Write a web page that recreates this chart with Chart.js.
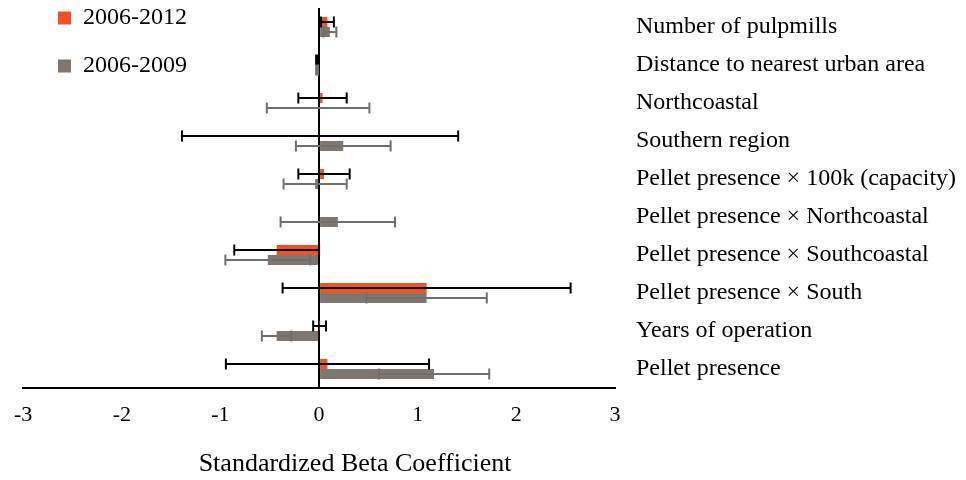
<!DOCTYPE html>
<html>
<head>
<meta charset="utf-8">
<script src="https://cdn.jsdelivr.net/npm/chart.js@4/dist/chart.umd.min.js"></script>
<style>
  html, body { margin: 0; padding: 0; background: #ffffff; }
  #wrap { width: 966px; height: 480px; }
</style>
</head>
<body>
<div id="wrap"><canvas id="c" width="966" height="480"></canvas></div>
<script>
// ---- data ----
const categories = [
  "Number of pulpmills",
  "Distance to nearest urban area",
  "Northcoastal",
  "Southern region",
  "Pellet presence \u00d7 100k (capacity)",
  "Pellet presence \u00d7 Northcoastal",
  "Pellet presence \u00d7 Southcoastal",
  "Pellet presence \u00d7 South",
  "Years of operation",
  "Pellet presence"
];
const seriesNames = ["2006-2012", "2006-2009"];
const beta2012 = [0.085, -0.02, 0.035, 0.01, 0.05, 0.0, -0.43, 1.09, 0.005, 0.085];
const err2012  = [0.065, 0.01, 0.245, 1.40, 0.26, 0.0, 0.43, 1.46, 0.065, 1.03];
const beta2009 = [0.11, -0.02, -0.01, 0.245, -0.04, 0.19, -0.52, 1.09, -0.43, 1.165];
const err2009  = [0.065, 0.01, 0.52, 0.48, 0.32, 0.58, 0.43, 0.61, 0.15, 0.56];
const xTicks = [-3, -2, -1, 0, 1, 2, 3];
const xTitle = "Standardized Beta Coefficient";

// ---- styles ----
const FONT = "'Liberation Serif', 'Times New Roman', serif";
const ORANGE = "#F05223";
const GREY = "#7F776F";
const errColors = ["#000000", "#6F6F6F"];
const errors = [err2012, err2009];

Chart.defaults.font.family = FONT;
Chart.defaults.color = "#000";

const errorBarPlugin = {
  id: "errorBars",
  afterDatasetsDraw(chart) {
    const ctx = chart.ctx;
    const xs = chart.scales.x;
    chart.data.datasets.forEach((ds, di) => {
      const meta = chart.getDatasetMeta(di);
      const errs = errors[di];
      ctx.save();
      ctx.strokeStyle = errColors[di];
      ctx.lineWidth = 2;
      meta.data.forEach((bar, i) => {
        const e = errs[i];
        if (!e) return;
        const v = ds.data[i];
        const x1 = xs.getPixelForValue(v - e);
        const x2 = xs.getPixelForValue(v + e);
        const y = bar.y;
        const h = 5.5;
        ctx.beginPath();
        ctx.moveTo(x1, y); ctx.lineTo(x2, y);
        ctx.moveTo(x1, y - h); ctx.lineTo(x1, y + h);
        ctx.moveTo(x2, y - h); ctx.lineTo(x2, y + h);
        ctx.stroke();
      });
      ctx.restore();
    });
  }
};

const placePlugin = {
  id: "place",
  afterLayout(chart) {
    const lg = chart.legend;
    if (lg) { lg.left = 34; lg.top = -18; }
    const s = chart.scales.x;
    if (s && !s._shiftPatched) {
      const orig = s.drawTitle;
      s.drawTitle = function () {
        const c = this.ctx;
        c.save(); c.translate(36, 0);
        orig.call(this);
        c.restore();
      };
      s._shiftPatched = true;
    }
  }
};

new Chart(document.getElementById("c"), {
  type: "bar",
  data: {
    labels: categories,
    datasets: [
      { label: seriesNames[0], data: beta2012, backgroundColor: ORANGE, borderWidth: 0 },
      { label: seriesNames[1], data: beta2009, backgroundColor: GREY, borderWidth: 0 }
    ]
  },
  options: {
    indexAxis: "y",
    responsive: false,
    animation: false,
    layout: { padding: { top: 8, left: 21, right: 0, bottom: 0 } },
    datasets: { bar: { categoryPercentage: 0.53, barPercentage: 1.0 } },
    plugins: {
      legend: {
        position: "chartArea",
        fullSize: false,
        align: "start",
        labels: {
          boxWidth: 13,
          boxHeight: 13,
          padding: 24,
          color: "#000",
          font: { size: 24, family: FONT }
        }
      },
      tooltip: { enabled: false }
    },
    scales: {
      x: {
        type: "linear",
        position: "bottom",
        min: xTicks[0],
        max: xTicks[xTicks.length - 1],
        afterBuildTicks(scale) { scale.ticks = xTicks.map(v => ({ value: v })); },
        afterFit(scale) { scale.height = 92; },
        ticks: { font: { size: 22 }, color: "#000", padding: 14 },
        grid: {
          drawTicks: false,
          lineWidth: 2,
          color: (c) => (c.tick && c.tick.value === 0 ? "#000" : "rgba(0,0,0,0)")
        },
        border: { display: true, color: "#000", width: 2 },
        title: { display: true, text: xTitle, font: { size: 26 }, color: "#000", padding: { top: 0, bottom: 0 } }
      },
      y: {
        type: "category",
        position: "right",
        afterFit(scale) { scale.width = 351; scale.paddingTop = 0; scale.paddingBottom = 0; },
        grid: { display: false, drawTicks: false },
        border: { display: false },
        ticks: { font: { size: 24 }, color: "#000", padding: 21, crossAlign: "near" }
      }
    }
  },
  plugins: [errorBarPlugin, placePlugin]
});
</script>
</body>
</html>
